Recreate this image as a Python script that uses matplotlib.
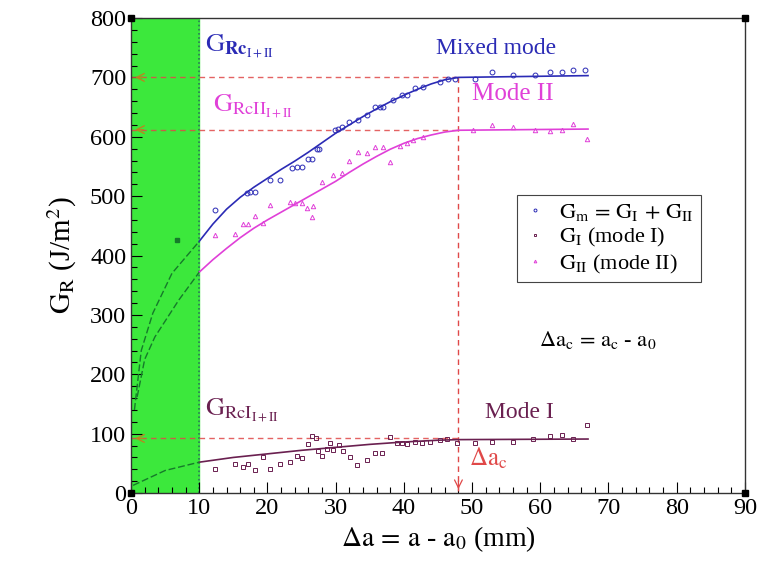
import numpy as np
import matplotlib
matplotlib.use("Agg")
import matplotlib.pyplot as plt
from matplotlib.ticker import MultipleLocator

plt.rcParams['font.family'] = ['Liberation Serif', 'DejaVu Serif']
plt.rcParams['mathtext.fontset'] = 'stix'
plt.rcParams['mathtext.default'] = 'rm'

# ---- data
# mixed mode (G_m = G_I + G_II), open circles
gm_x = [12.3, 17, 17.5, 18.2, 20.4, 21.8, 23.6, 24.3, 25, 26, 26.5, 27.3, 27.6,
        29.9, 30.4, 31, 32, 33.3, 34.6, 35.8, 36.5, 37, 38.4, 39.7, 40.5, 41.6,
        42.8, 45.3, 46.5, 47.5, 50.4, 52.9, 56, 59.2, 61.4, 63.2, 64.8, 66.6]
gm_y = [476, 505, 507, 507, 527, 527, 547, 549, 549, 562, 562, 579, 579,
        611, 613, 616, 625, 628, 636, 650, 650, 650, 662, 670, 670, 682,
        684, 692, 698, 698, 698, 709, 704, 704, 709, 709, 712, 712]

# mode I, open squares
g1_x = [12.3, 15.2, 16.4, 17.1, 18.2, 19.4, 20.4, 21.8, 23.3, 24.3, 25, 26, 26.5,
        27.1, 27.4, 28, 28.7, 29.2, 29.6, 30.5, 31.1, 32.1, 33.1, 34.6, 35.8,
        36.8, 38, 39, 39.7, 40.4, 41.6, 42.6, 43.8, 45.3, 46.3, 47.8, 50.4,
        52.9, 56, 58.9, 61.4, 63.2, 64.8, 66.9]
g1_y = [40, 49, 44, 49, 39, 61, 40, 49, 52, 62, 59, 82, 96,
        92, 71, 62, 74, 84, 72, 81, 71, 61, 47, 56, 67,
        67, 94, 84, 84, 82, 86, 85, 86, 89, 91, 84, 85,
        86, 86, 91, 96, 98, 91, 114]

# mode II, triangles
g2_x = [12.3, 15.2, 16.4, 17.1, 18.2, 19.3, 20.4, 23.3, 24, 25, 25.8, 26.5, 26.7,
        28, 29.6, 31, 32, 33.3, 34.6, 35.8, 37, 38, 39.4, 40.5, 41.3, 42.8,
        50.1, 52.9, 56, 59.2, 61.4, 63.2, 64.8, 66.9]
g2_y = [434, 437, 453, 453, 466, 455, 485, 490, 488, 488, 480, 465, 483,
        524, 535, 539, 559, 574, 572, 583, 583, 557, 584, 589, 594, 599,
        611, 619, 616, 611, 609, 611, 621, 596]

# fitted curves
fit_m_x = [10, 12, 14, 16, 18, 20, 22, 24, 26, 28, 30, 32, 34, 36, 38, 40,
           42, 44, 46, 48, 67]
fit_m_y = [424, 453, 478, 498, 515, 530, 545, 559, 574, 590, 606, 620, 634,
           647, 659, 670, 680, 689, 696, 700, 703]
fit_2_x = [10, 12, 14, 16, 18, 20, 22, 24, 26, 28, 30, 32, 34, 36, 38, 40,
           42, 44, 46, 48, 67]
fit_2_y = [372, 393, 412, 430, 446, 460, 473, 486, 499, 512, 525, 540, 554,
           567, 579, 589, 597, 603, 608, 611, 613]
fit_1_x = [10, 15, 20, 25, 30, 35, 40, 45, 48, 67]
fit_1_y = [52, 60, 66, 72, 77, 82, 86, 89, 90, 91]

# extrapolated parts inside the green zone
ext_m_x = [0.5, 1.5, 3.2, 6, 10]
ext_m_y = [140, 240, 303, 370, 424]
ext_2_x = [0.9, 2, 3.5, 7, 10]
ext_2_y = [162, 225, 263, 325, 372]
ext_1_x = [0.3, 5, 10]
ext_1_y = [13, 38, 52]
green_pt = (6.7, 427)

g_rc = 700
g_rc2 = 612
g_rc1 = 92
da_c = 48

blue = '#2b2bb5'
mag = '#e040d8'
maroon = '#6a2050'
red = '#e04848'

fig = plt.figure(figsize=(7.64, 5.72), dpi=100)
ax = fig.add_axes([0.1715, 0.138, 0.8035, 0.8305])

ax.axvspan(0, 10, color='#3ce83c', zorder=0)
ax.axvline(10, color='#2a7a5a', ls=(0, (1, 1.5)), lw=1.2, zorder=1)

# dashed reference lines
for yv in [g_rc, g_rc2, g_rc1]:
    ax.plot([0, da_c], [yv, yv], color=red, ls=(0, (4, 3)), lw=1.0, alpha=0.85, zorder=2)
    ax.annotate('', xy=(0.2, yv), xytext=(2.2, yv),
                arrowprops=dict(arrowstyle='->', color='#c08020', lw=0.9,
                                mutation_scale=14), zorder=3)
ax.plot([da_c, da_c], [g_rc, 0], color=red, ls=(0, (4, 3)), lw=1.0, zorder=2)
ax.annotate('', xy=(da_c, 2), xytext=(da_c, 25),
            arrowprops=dict(arrowstyle='->', color=red, lw=0.9, mutation_scale=14),
            zorder=3, annotation_clip=False)

# curves
ax.plot(fit_m_x, fit_m_y, color=blue, lw=1.2, zorder=4)
ax.plot(fit_2_x, fit_2_y, color=mag, lw=1.2, zorder=4)
ax.plot(fit_1_x, fit_1_y, color=maroon, lw=1.2, zorder=4)
for ex, ey in [(ext_m_x, ext_m_y), (ext_2_x, ext_2_y), (ext_1_x, ext_1_y)]:
    ax.plot(ex, ey, color='#157a2a', ls=(0, (5, 2)), lw=1.0, zorder=4)
ax.plot(*green_pt, 's', color='#157a2a', ms=2.5, zorder=4)

# points
h1, = ax.plot(gm_x, gm_y, 'o', mfc='none', mec=blue, ms=3.5, mew=0.7, zorder=5)
h2, = ax.plot(g1_x, g1_y, 's', mfc='none', mec=maroon, ms=3.2, mew=0.7, zorder=5)
h3, = ax.plot(g2_x, g2_y, '^', mfc='none', mec=mag, ms=3.2, mew=0.7, zorder=5)

# labels on the plot
ax.text(10.8, 752, r'$G_{\mathbf{Rc}_{I+II}}$', color=blue, fontsize=19, va='center')
ax.text(12.0, 652, r'$G_{RcII_{I+II}}$', color=mag, fontsize=19, va='center')
ax.text(10.8, 140, r'$G_{RcI_{I+II}}$', color=maroon, fontsize=19, va='center')
ax.text(53.5, 748, 'Mixed mode', color=blue, fontsize=17, ha='center', va='center')
ax.text(56, 672, 'Mode II', color=mag, fontsize=18, ha='center', va='center')
ax.text(57, 136, 'Mode I', color=maroon, fontsize=17, ha='center', va='center')
ax.text(49.5, 58, r'$\Delta a_c$', color=red, fontsize=18, va='center')
ax.text(68.5, 258, r'$\Delta a_c\,=\,a_c$ - $a_0$', fontsize=16, ha='center', va='center')

leg = ax.legend([h1, h2, h3],
                [r'$G_m\,=\,G_I\,+\,G_{II}$', r'$G_I$ (mode I)', r'$G_{II}$ (mode II)'],
                loc='upper left', bbox_to_anchor=(0.629, 0.627), fontsize=16,
                frameon=True, fancybox=False, edgecolor='#444444', framealpha=1,
                handlelength=1.0, handletextpad=0.6, borderpad=0.3,
                labelspacing=0.15, markerscale=0.6, borderaxespad=0)
leg.get_frame().set_linewidth(0.8)

# corner marks
ax.plot([0, 0, 90, 90], [0, 800, 0, 800], 's', color='black', ms=4, clip_on=False, zorder=6)

ax.set_xlim(0, 90)
ax.set_ylim(0, 800)
ax.xaxis.set_major_locator(MultipleLocator(10))
ax.xaxis.set_minor_locator(MultipleLocator(2))
ax.yaxis.set_major_locator(MultipleLocator(100))
ax.yaxis.set_minor_locator(MultipleLocator(20))
ax.tick_params(direction='in', which='both', labelsize=17.5, top=False, right=False)
ax.tick_params(which='major', length=8, width=0.8)
ax.tick_params(which='minor', length=4, width=0.8)
for s in ax.spines.values():
    s.set_linewidth(1.0)
    s.set_color('#333333')

ax.set_xlabel(r'$\Delta a\,=\,a$ - $a_0$ (mm)', fontsize=20, labelpad=4)
ax.set_ylabel(r'$G_R$ (J/m$^2$)', fontsize=21, labelpad=8)

fig.savefig('out.png', dpi=100)
